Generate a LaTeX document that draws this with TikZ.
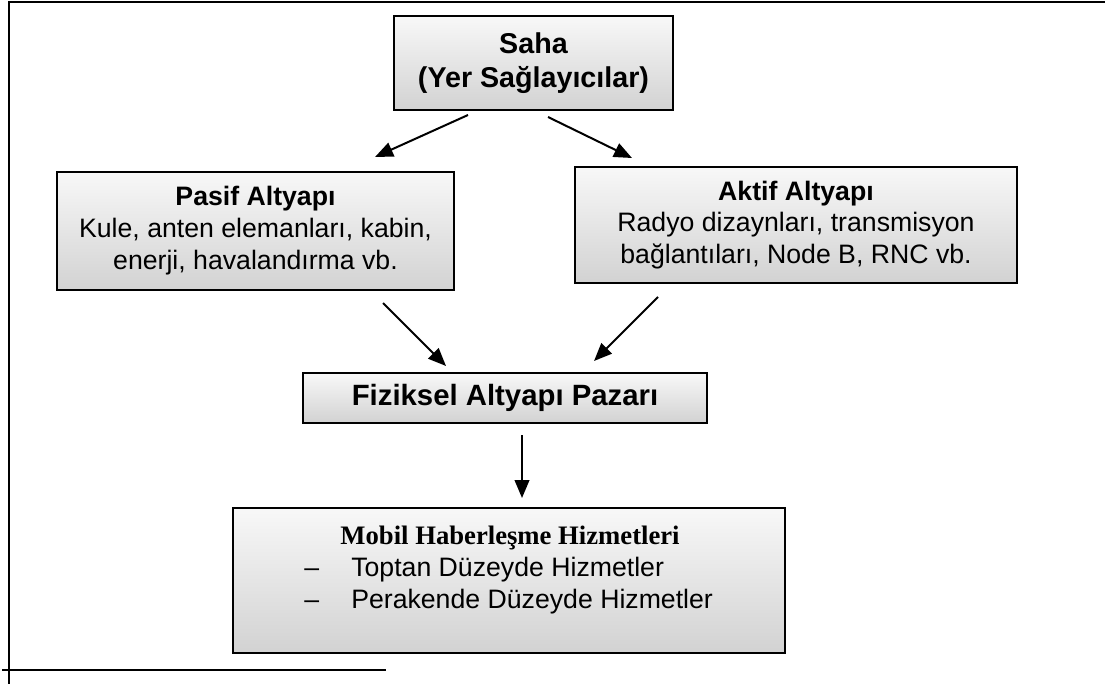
\documentclass[tikz,border=0pt]{standalone}
\usepackage{fontspec}
\setmainfont{Liberation Sans}
\newfontfamily\timesf{Liberation Serif}
\usetikzlibrary{arrows.meta}
\definecolor{topc}{HTML}{F8F8F8}
\definecolor{botc}{HTML}{D2D2D2}
\begin{document}
\begin{tikzpicture}[x=0.75pt,y=-0.75pt,
  box/.style={draw=black,line width=1.9pt,top color=topc,bottom color=botc,inner sep=0pt,align=center},
  arr/.style={-{Triangle[length=13.5pt,width=11pt]},line width=1.5pt},
  frameline/.style={line width=1.3pt},
  txt/.style={inner sep=0pt,anchor=base west}]
\useasboundingbox (0,0) rectangle (1105,684);
% frame
\coordinate (ftl) at (9,2);
\coordinate (ftr) at (1105,2);
\coordinate (fbl) at (9,684);
\coordinate (fn1) at (2,670);
\coordinate (fn2) at (386,670);
\draw[frameline] (ftr) -- (ftl) -- (fbl);
\draw[frameline] (fn1) -- (fn2);
% boxes
\node[box,minimum width=209.25pt,minimum height=70.5pt,font=\bfseries\fontsize{21.5}{25.5}\selectfont] (saha) at (533.5,63) {Saha\\(Yer Sağlayıcılar)};
\node[box,minimum width=297.75pt,minimum height=88.5pt,font=\fontsize{20}{24}\selectfont] (pasif) at (255.5,231) {\textbf{Pasif Altyapı}\\Kule, anten elemanları, kabin,\\enerji, havalandırma vb.};
\node[box,minimum width=331.5pt,minimum height=87pt,font=\fontsize{20}{23.5}\selectfont] (aktif) at (796,225) {\textbf{Aktif Altyapı}\\Radyo dizaynları, transmisyon\\bağlantıları, Node B, RNC vb.};
\node[box,minimum width=303pt,minimum height=37.5pt,font=\bfseries\fontsize{22}{26}\selectfont] (fiz) at (505,398) {Fiziksel Altyapı Pazarı};
\node[box,minimum width=414pt,minimum height=108.75pt] (mobil) at (509,580.5) {};
\node[inner sep=0pt,anchor=base,font=\timesf\bfseries\fontsize{20}{24}\selectfont] (mt) at (510,544) {Mobil Haberleşme Hizmetleri};
\node[txt,font=\fontsize{20}{24}\selectfont] (m1) at (304,576) {\makebox[35.25pt][l]{–}Toptan Düzeyde Hizmetler};
\node[txt,font=\fontsize{20}{24}\selectfont] (m2) at (304,608) {\makebox[35.25pt][l]{–}Perakende Düzeyde Hizmetler};
% arrow ends
\coordinate (sp1) at (468,115); \coordinate (sp2) at (375,157);
\coordinate (sa1) at (548,117); \coordinate (sa2) at (632,158);
\coordinate (pf1) at (383,303); \coordinate (pf2) at (446,366);
\coordinate (af1) at (658,297); \coordinate (af2) at (594,361);
\coordinate (fm1) at (522,435); \coordinate (fm2) at (522,498);
\draw[arr] (sp1) -- (sp2);
\draw[arr] (sa1) -- (sa2);
\draw[arr] (pf1) -- (pf2);
\draw[arr] (af1) -- (af2);
\draw[arr] (fm1) -- (fm2);
\end{tikzpicture}
\end{document}
